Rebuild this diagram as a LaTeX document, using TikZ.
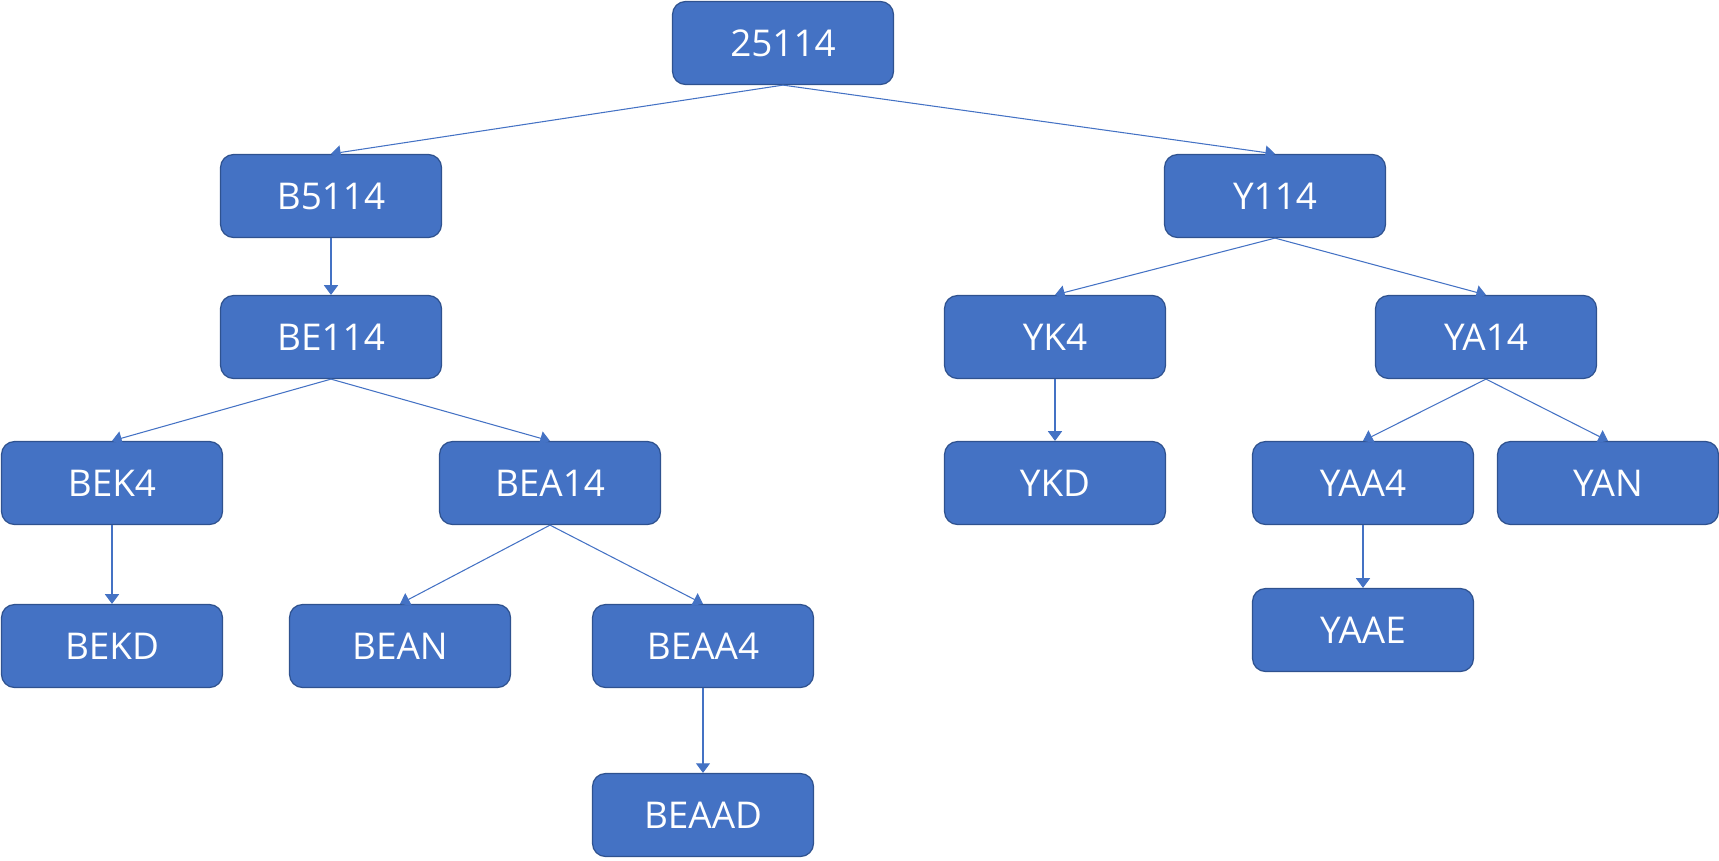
\documentclass[tikz,border=0pt]{standalone}
\usepackage{fontspec}
\setmainfont{Open Sans}
\usepackage{tikz}
\usetikzlibrary{arrows.meta}
\definecolor{OfficeBlue}{RGB}{68,114,196}
\definecolor{EdgeBlue}{RGB}{47,82,143}

\begin{document}
\begin{tikzpicture}[x=0.02cm,y=-0.02cm,
    box/.style={draw=EdgeBlue,fill=OfficeBlue,line width=0.7pt,rounded corners=0.26cm,
      minimum width=4.42cm,minimum height=1.66cm,inner sep=0pt,
      text=white,font=\fontsize{21}{25}\selectfont},
    link/.style={OfficeBlue,line width=0.6pt,-{Triangle[length=5.5pt,width=8pt]}}]
  \useasboundingbox (0,0) rectangle (1719,860);
  \foreach \n/\x/\y/\t in {r/783/43/25114, b/331/196/B5114, y/1275/196/Y114,
      be/331/337/BE114, yk/1055/337/YK4, ya/1486/337/YA14,
      bek/112/483/BEK4, bea/550/483/BEA14, ykd/1055/483/YKD,
      yaa/1363/483/YAA4, yan/1608/483/YAN,
      bekd/112/646/BEKD, bean/400/646/BEAN, beaa/703/646/BEAA4,
      yaae/1363/630/YAAE, beaad/703/815/BEAAD}
    \node[box] (\n) at (\x,\y) {\t};
  \foreach \p/\c in {r/b, r/y, b/be, be/bek, be/bea, bek/bekd, bea/bean,
      bea/beaa, beaa/beaad, y/yk, y/ya, yk/ykd, ya/yaa, ya/yan, yaa/yaae}
    \draw[link] (\p.south) -- (\c.north);
\end{tikzpicture}
\end{document}
